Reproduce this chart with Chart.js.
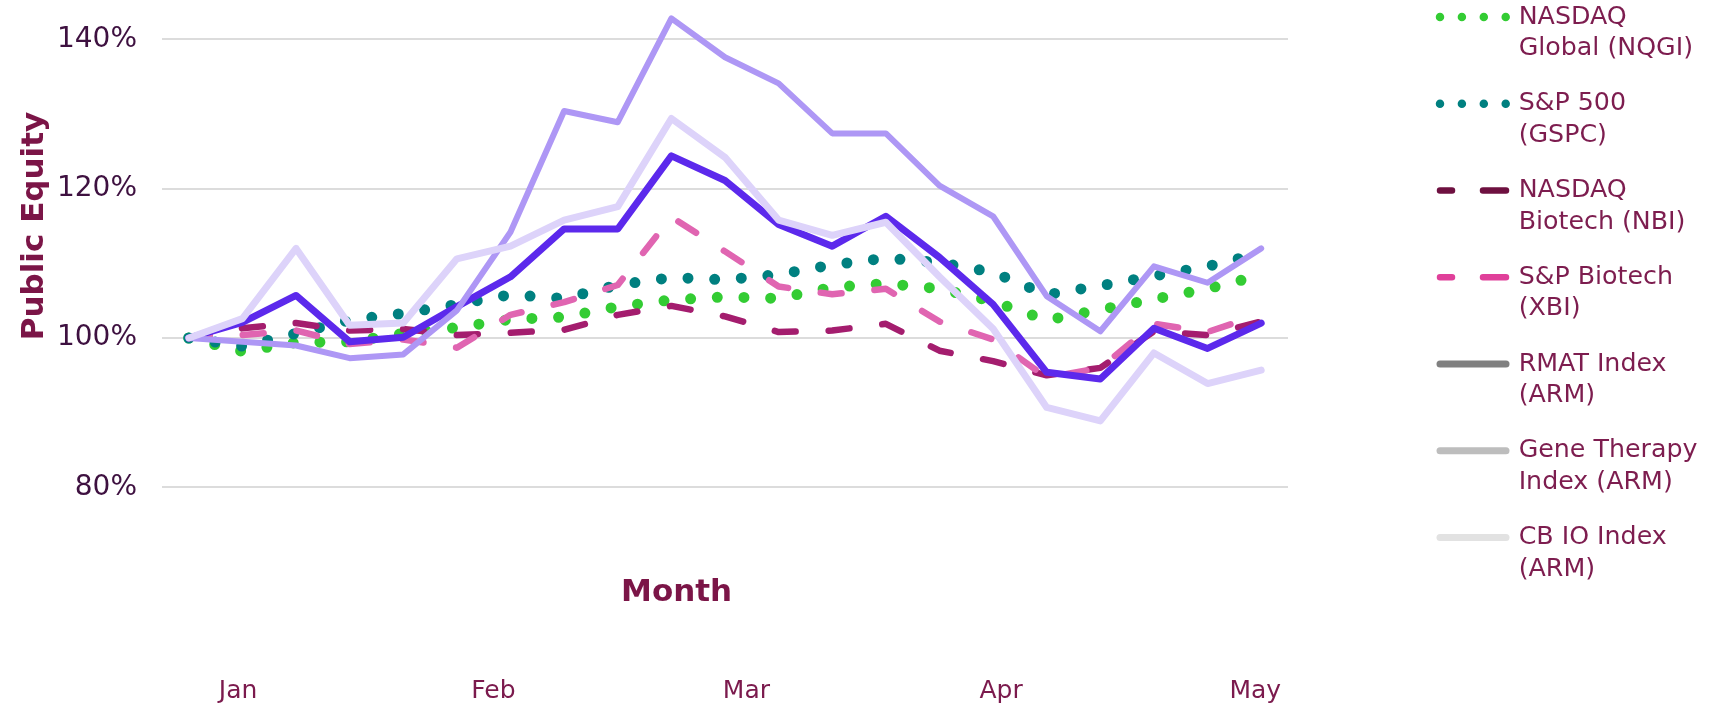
<!DOCTYPE html>
<html>
<head>
<meta charset="utf-8">
<script src="https://cdn.jsdelivr.net/npm/chart.js@4.4.1/dist/chart.umd.min.js"></script>
<style>
  html, body { margin: 0; padding: 0; background: #ffffff; }
  #wrap { width: 1721px; height: 707px; position: relative; }
</style>
</head>
<body>
<div id="wrap"><canvas id="c" width="1721" height="707"></canvas></div>
<script>
// ---------------- data ----------------
const weeks = ['W01','W02','W03','W04','W05','W06','W07','W08','W09','W10','W11',
               'W12','W13','W14','W15','W16','W17','W18','W19','W20','W21'];
const monthLabels = ['Jan', 'Feb', 'Mar', 'Apr', 'May'];
const monthTickPos = [0.92, 5.68, 10.4, 15.15, 19.89];   // in week-index units
const yTickValues = [80, 100, 120, 140];

const seriesNames = ['NASDAQ Global (NQGI)', 'S&P 500 (GSPC)', 'NASDAQ Biotech (NBI)',
                     'S&P Biotech (XBI)', 'RMAT Index (ARM)', 'Gene Therapy Index (ARM)', 'CB IO Index (ARM)'];
const legendText = [['NASDAQ', 'Global (NQGI)'], ['S&P 500', '(GSPC)'], ['NASDAQ', 'Biotech (NBI)'],
                    ['S&P Biotech', '(XBI)'], ['RMAT Index', '(ARM)'], ['Gene Therapy', 'Index (ARM)'],
                    ['CB IO Index', '(ARM)']];

const nqgi = [100, 98.2, 99.4, 99.5, 100.6, 101.4, 102.5, 102.8, 104.2, 105.1, 105.5,
              105.3, 106.8, 107.3, 106.6, 104.9, 102.4, 103.8, 105.2, 106.6, 108.4];
const gspc = [100, 98.9, 100.6, 102.4, 103.3, 104.5, 105.8, 105.3, 107.1, 108.1, 107.8,
              108.5, 109.8, 110.7, 110.1, 108.8, 105.8, 107.0, 108.3, 109.6, 111.4];
const nbi  = [100, 101.3, 102.0, 101.0, 101.2, 100.4, 100.7, 101.1, 103.1, 104.3, 102.9,
              100.8, 101.0, 101.9, 98.3, 96.9, 95.0, 96.0, 100.9, 100.4, 102.2];
const xbi  = [100, 100.4, 101.0, 99.2, 99.8, 98.7, 103.1, 104.8, 107.1, 116.2, 111.6,
              106.9, 105.85, 106.6, 102.2, 99.8, 94.7, 96.0, 101.9, 100.8, 103.2];
const rmat = [100, 102.1, 105.7, 99.5, 100.1, 104.2, 108.2, 114.6, 114.6, 124.4, 121.1,
              115.2, 112.3, 116.3, 110.8, 104.5, 95.4, 94.5, 101.3, 98.6, 102.0];
const gene = [100, 99.5, 99.0, 97.3, 97.8, 103.7, 114.2, 130.4, 128.9, 142.8, 137.6,
              134.1, 127.4, 127.4, 120.4, 116.3, 105.6, 100.9, 109.6, 107.4, 112.0];
const cbio = [100, 102.6, 112.0, 101.7, 102.0, 110.6, 112.3, 115.8, 117.6, 129.4, 124.2,
              115.8, 113.75, 115.5, 108.2, 101.25, 90.7, 88.9, 98.0, 93.9, 95.7];

// ---------------- styles ----------------
const FONT = "Verdana, 'DejaVu Sans', sans-serif";
const lineColors   = ['#33cc33', '#008080', '#a41d6e', '#e065b1', '#5c29ec', '#ae97f5', '#ddd3fa'];
const legendColors = ['#33cc33', '#008080', '#6e1040', '#e0409a', '#808080', '#bdbdbd', '#e2e2e2'];
const DOT = [0, 26.7], DASH = [21, 33];
const lineDashes   = [DOT, DOT, DASH, DASH, [], [], []];
const lineWidths   = [11, 11, 6.5, 6.5, 7, 6, 7];
const legendDashes = [[0, 21.9], [0, 21.9], [23, 31], [23, 31], [], [], []];
const legendDashOffsets = [0, 0, 11, 11, 0, 0, 0];
const legendWidths = [8.5, 8.5, 6.5, 6.5, 7, 7, 7];
const drawOrder    = [7, 6, 5, 4, 3, 2, 1];  // later series drawn on top

const seriesValues = [nqgi, gspc, nbi, xbi, rmat, gene, cbio];

const datasets = seriesValues.map((vals, i) => ({
  label: seriesNames[i],
  data: vals,
  xAxisID: 'x',
  yAxisID: 'y',
  borderColor: lineColors[i],
  backgroundColor: lineColors[i],
  borderWidth: lineWidths[i],
  borderDash: lineDashes[i],
  borderCapStyle: 'round',
  borderJoinStyle: 'round',
  pointRadius: 0,
  pointHoverRadius: 0,
  tension: 0,
  fill: false,
  order: drawOrder[i]
}));

// ---------------- layout constants ----------------
const CHART_LEFT = 162;      // width reserved for y axis
const LEGEND_W = 433;        // width reserved on the right for the legend
const LEGEND_ITEM_X = 1440;  // x where legend samples start
const LEGEND_FIRST_Y = 17;   // centre of first legend line
const MONTH_AXIS_H = 145;

const titleColor = '#7b1547';

const layoutTweaks = {
  id: 'layoutTweaks',
  beforeLayout(chart) {
    const lg = chart.legend;
    if (lg && !lg.__fixedWidth) {
      const fit = lg.fit;
      lg.fit = function () { fit.call(this); if (this.options.display) this.width = LEGEND_W; };
      lg.__fixedWidth = true;
    }
  },
  afterLayout(chart) {
    const lg = chart.legend;
    if (!lg) return;
    const pad = lg.options.labels.padding;
    const fs = lg.options.labels.font.size;
    const w = lg.width;
    lg.left = LEGEND_ITEM_X - pad;
    lg.right = lg.left + w;
    lg.top = LEGEND_FIRST_Y - fs / 2 - pad;
  },
  afterDraw(chart) {
    const { ctx, chartArea: a } = chart;
    ctx.save();
    ctx.fillStyle = titleColor;
    ctx.font = 'bold 31px ' + FONT;
    ctx.textAlign = 'center';
    ctx.textBaseline = 'middle';
    // x-axis title
    ctx.fillText('Month', a.left + (a.right - a.left) * 0.457, a.bottom + 31);
    // y-axis title
    ctx.translate(35, a.top + (a.bottom - a.top) * 0.4);
    ctx.rotate(-Math.PI / 2);
    ctx.fillText('Public Equity', 0, 0);
    ctx.restore();
  }
};

Chart.defaults.font.family = FONT;

new Chart(document.getElementById('c'), {
  type: 'line',
  data: { labels: weeks, datasets },
  plugins: [layoutTweaks],
  options: {
    responsive: false,
    animation: false,
    devicePixelRatio: 1,
    layout: { padding: { top: 2, left: 0, right: 0, bottom: 0 } },
    interaction: { mode: 'nearest', intersect: false },
    plugins: {
      tooltip: { enabled: false },
      title: { display: false },
      legend: {
        display: true,
        position: 'right',
        align: 'start',
        labels: {
          usePointStyle: true,
          pointStyle: 'line',
          pointStyleWidth: 66,
          boxHeight: 25.3,
          padding: 23.5,
          color: '#7d1d4f',
          font: { size: 25.3, lineHeight: 1.25, family: FONT },
          sort: (a, b) => a.datasetIndex - b.datasetIndex,
          generateLabels(chart) {
            const items = Chart.defaults.plugins.legend.labels.generateLabels(chart);
            items.forEach(it => {
              const i = it.datasetIndex;
              it.text = legendText[i];
              it.pointStyle = 'line';
              it.strokeStyle = legendColors[i];
              it.fillStyle = legendColors[i];
              it.lineWidth = legendWidths[i];
              it.lineDash = legendDashes[i];
              it.lineDashOffset = legendDashOffsets[i];
              it.lineCap = 'round';
              it.fontColor = '#7d1d4f';
            });
            return items;
          }
        }
      }
    },
    scales: {
      x: {
        type: 'category',
        display: false,
        offset: true
      },
      xm: {
        type: 'linear',
        position: 'bottom',
        min: -0.5,
        max: 20.5,
        bounds: 'data',
        grid: { display: false, drawTicks: false },
        border: { display: false },
        afterBuildTicks(scale) { scale.ticks = monthTickPos.map(v => ({ value: v })); },
        afterFit(scale) {
          scale.height = MONTH_AXIS_H;
          scale.paddingLeft = 0; scale.paddingRight = 0;
        },
        ticks: {
          autoSkip: false,
          maxRotation: 0,
          padding: 114,
          color: '#7b1a4d',
          font: { size: 25, family: FONT },
          callback: (v, idx) => monthLabels[idx]
        }
      },
      y: {
        type: 'linear',
        position: 'left',
        min: 70,
        max: 145,
        afterBuildTicks(scale) { scale.ticks = yTickValues.map(v => ({ value: v })); },
        afterFit(scale) {
          scale.width = CHART_LEFT;
          scale.paddingTop = 0; scale.paddingBottom = 0;
        },
        grid: { color: '#dcdcdc', lineWidth: 2, drawTicks: false },
        border: { display: false },
        ticks: {
          padding: 25,
          color: '#3e1140',
          font: { size: 28, family: FONT },
          callback: v => v + '%'
        }
      }
    }
  }
});
</script>
</body>
</html>
